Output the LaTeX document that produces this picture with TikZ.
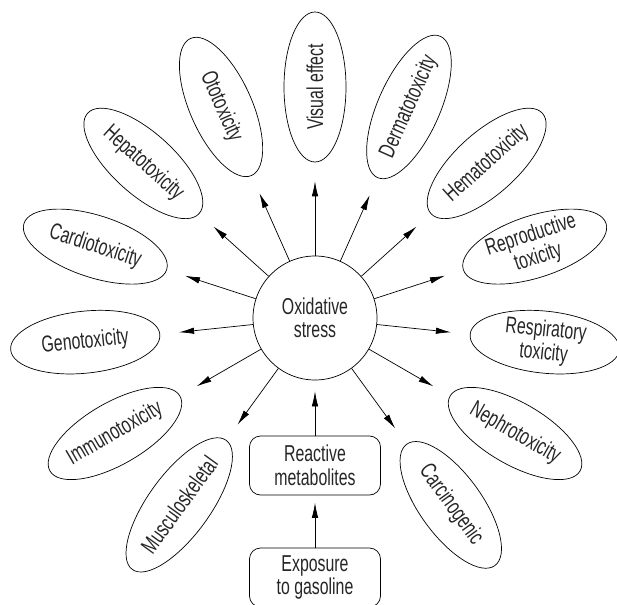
\documentclass[tikz,border=0pt]{standalone}
\usepackage{fontspec}
\setmainfont{Liberation Sans}[FakeStretch=0.69]
\usetikzlibrary{shapes.geometric,arrows.meta}
\begin{document}
\begin{tikzpicture}[x=1pt,y=1pt,
  every node/.style={font=\fontsize{23}{23.5}\selectfont, text=black!85},
  effect/.style={draw, ellipse, minimum width=150pt, minimum height=62pt,
    inner xsep=0pt, inner ysep=-12pt, align=center, line width=0.7pt},
  hub/.style={draw, circle, minimum size=124pt, inner sep=0pt, align=center, line width=0.7pt},
  stage/.style={draw, rounded corners=11pt, minimum width=131pt, minimum height=59pt,
    inner sep=0pt, align=center, line width=0.7pt},
  arr/.style={-{Latex[length=15pt,width=6.5pt]}, line width=0.7pt},
]
\useasboundingbox (-315,-286) rectangle (302,318);

% central hub
\node[hub] (os) at (0,0) {Oxidative\\stress};

% health effects arranged on a ring, each ellipse pointing at the hub
\node[effect, rotate=90]  (vis)  at (90:231)  {Visual effect};
\node[effect, rotate=66]  (derm) at (66:231)  {Dermatotoxicity};
\node[effect, rotate=42]  (hema) at (42:231)  {Hematotoxicity};
\node[effect, rotate=18]  (repr) at (18:231)  {Reproductive\\toxicity};
\node[effect, rotate=-6]  (resp) at (-6:231)  {Respiratory\\toxicity};
\node[effect, rotate=-30] (neph) at (-30:231) {Nephrotoxicity};
\node[effect, rotate=-54] (carc) at (-54:231) {Carcinogenic};
\node[effect, rotate=-66] (oto)  at (114:231) {Ototoxicity};
\node[effect, rotate=-42] (hepa) at (138:231) {Hepatotoxicity};
\node[effect, rotate=-18] (card) at (162:231) {Cardiotoxicity};
\node[effect, rotate=6]   (geno) at (186:231) {Genotoxicity};
\node[effect, rotate=30]  (immu) at (210:231) {Immunotoxicity};
\node[effect, rotate=54]  (musc) at (234:231) {Musculoskeletal};

% causal chain below the hub
\node[stage] (rm) at (0,-147.5) {Reactive\\metabolites};
\node[stage] (ex) at (0,-259.5) {Exposure\\to gasoline};

\foreach \n in {vis,derm,hema,repr,resp,neph,carc,oto,hepa,card,geno,immu,musc}
  \draw[arr, shorten >=19pt] (os) -- (\n);

\draw[arr, shorten >=11pt] (rm) -- (os);
\draw[arr, shorten >=7.5pt] (ex) -- (rm);
\end{tikzpicture}
\end{document}
